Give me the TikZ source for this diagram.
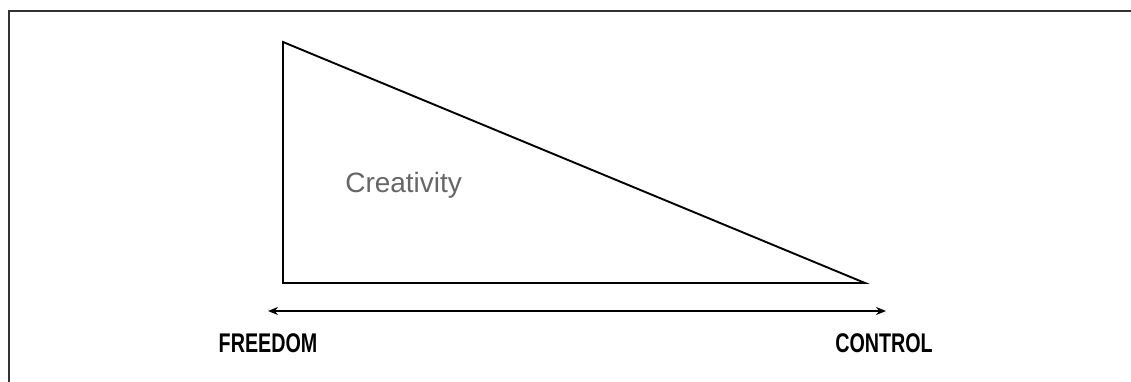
\documentclass[tikz,border=0pt]{standalone}
\usepackage{fontspec}
\setmainfont{Liberation Sans}
\usetikzlibrary{positioning,arrows.meta}

\begin{document}
\begin{tikzpicture}[x=1pt, y={(0,-1pt)}, line width=1.9pt,
    axislabel/.style={font=\fontsize{27}{30}\selectfont\bfseries, xscale=0.73, anchor=base},
    >={Stealth[length=10pt,width=8pt]}]
  \useasboundingbox (0,0) rectangle (1131,382);
  \draw[black!80] (9,382) -- (9,11) -- (1131,11);
  \coordinate (apex) at (283,42);
  \coordinate (corner) at (283,283);
  \coordinate (tip) at (865,283);
  \draw[line join=miter] (apex) -- (corner) -- (tip) -- cycle;
  \node[anchor=base west, text=black!60, font=\fontsize{28}{32}\selectfont] (crt) at (341,193) {Creativity};
  \coordinate (left) at (268,311);
  \coordinate (right) at (886,311);
  \draw[<->] (left) -- (right);
  \node[axislabel] (freedom) at (268,352) {FREEDOM};
  \node[axislabel] (control) at (884,352) {CONTROL};
\end{tikzpicture}
\end{document}
